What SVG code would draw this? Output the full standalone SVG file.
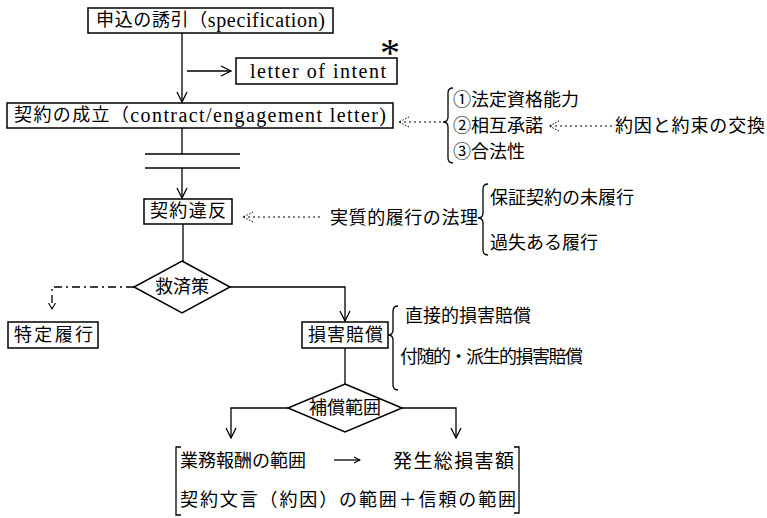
<svg xmlns="http://www.w3.org/2000/svg" width="767" height="518" viewBox="0 0 767 518">
<defs>
<style>
.t{font-family:"Liberation Serif","Noto Sans CJK JP",serif;font-size:18px;fill:#000;dominant-baseline:central}
.lat{font-size:20px}
.box{fill:#fff;stroke:#000;stroke-width:1.5}
.ln{fill:none;stroke:#000;stroke-width:1.3}
.dot{fill:none;stroke:#000;stroke-width:1.2;stroke-dasharray:2 3}
.dd{fill:none;stroke:#000;stroke-width:1.3;stroke-dasharray:8 4 2 4}
</style>
<marker id="arr" viewBox="0 0 12 12" refX="11" refY="6" markerWidth="12" markerHeight="12" orient="auto" markerUnits="userSpaceOnUse">
<path d="M1,1 L11,6 L1,11" fill="none" stroke="#000" stroke-width="1.3"/>
</marker>
<marker id="darr" viewBox="0 0 12 12" refX="11" refY="6" markerWidth="12" markerHeight="12" orient="auto" markerUnits="userSpaceOnUse">
<path d="M1,1 L11,6 L1,11" fill="none" stroke="#000" stroke-width="1" stroke-dasharray="1.5 1.5"/>
</marker>
<marker id="sarr" viewBox="0 0 8 8" refX="7" refY="4" markerWidth="8" markerHeight="8" orient="auto" markerUnits="userSpaceOnUse">
<path d="M1,1 L7,4 L1,7" fill="none" stroke="#000" stroke-width="1.1"/>
</marker>
</defs>

<g id="connectors">
<line class="ln" x1="182" y1="32" x2="182" y2="102" marker-end="url(#arr)"/>
<line class="ln" x1="187" y1="71" x2="231" y2="71" marker-end="url(#arr)"/>
<line class="dot" x1="446" y1="122" x2="399" y2="122" marker-end="url(#darr)"/>
<line class="dot" x1="612" y1="126" x2="549" y2="126" marker-end="url(#darr)"/>
<line class="ln" x1="182" y1="128" x2="182" y2="154"/>
<line class="ln" x1="145" y1="154" x2="240" y2="154"/>
<line class="ln" x1="145" y1="168" x2="240" y2="168"/>
<line class="ln" x1="182" y1="168" x2="182" y2="198" marker-end="url(#arr)"/>
<line class="dot" x1="320" y1="217" x2="243" y2="217" marker-end="url(#darr)"/>
<line class="ln" x1="183" y1="224" x2="183" y2="261"/>
<path class="dd" d="M134,287 L52,287 L52,308"/>
<path d="M48.5,303 L52,309 L55.5,303" fill="none" stroke="#000" stroke-width="1.1"/>
<path class="ln" d="M230,287 L345,287 L345,321" marker-end="url(#arr)"/>
<line class="ln" x1="345" y1="348" x2="345" y2="384"/>
<path class="ln" d="M288,408 L231,408 L231,438" marker-end="url(#arr)"/>
<path class="ln" d="M402,408 L456,408 L456,438" marker-end="url(#arr)"/>
<line class="ln" x1="334" y1="460" x2="360" y2="460" marker-end="url(#sarr)"/>
</g>

<g id="n-offer">
<rect class="box" x="88" y="8" width="245" height="25"/>
<text class="t" x="96" y="20" textLength="229" lengthAdjust="spacing">申込の誘引（<tspan class="lat">specification)</tspan></text>
</g>

<g id="n-loi">
<rect class="box" x="236" y="58" width="161" height="26"/>
<text class="t lat" x="250" y="71" textLength="136" lengthAdjust="spacing">letter of intent</text>
<text class="t" x="380" y="52" style="font-size:40px">*</text>
</g>

<g id="n-contract">
<rect class="box" x="7" y="103" width="386" height="25"/>
<text class="t" x="14" y="115" textLength="372" lengthAdjust="spacing">契約の成立（<tspan class="lat">contract/engagement letter)</tspan></text>
</g>

<g id="n-elements">
<path class="ln" d="M453,88 Q448,88 448,93 L448,117 Q448,122 443,122 Q448,122 448,127 L448,158 Q448,163 453,163"/>
<text class="t" x="453" y="100">①法定資格能力</text>
<text class="t" x="453" y="126">②相互承諾</text>
<text class="t" x="453" y="152">③合法性</text>
<text class="t" x="615" y="126" textLength="150" lengthAdjust="spacing">約因と約束の交換</text>
</g>

<g id="n-breach">
<rect class="box" x="144" y="199" width="88" height="25"/>
<text class="t" x="150" y="211" textLength="76" lengthAdjust="spacing">契約違反</text>
</g>

<g id="n-substantial">
<text class="t" x="330" y="218" textLength="148" lengthAdjust="spacing">実質的履行の法理</text>
<path class="ln" d="M488,184 Q483,184 483,189 L483,213 Q483,218 478,218 Q483,218 483,223 L483,250 Q483,255 488,255"/>
<text class="t" x="490" y="198">保証契約の未履行</text>
<text class="t" x="490" y="243">過失ある履行</text>
</g>

<g id="n-remedy">
<polygon class="box" points="182,261 230,287 182,313 134,287"/>
<text class="t" x="182" y="287" text-anchor="middle">救済策</text>
</g>

<g id="n-specific">
<rect class="box" x="8" y="322" width="90" height="26"/>
<text class="t" x="14" y="335" textLength="79" lengthAdjust="spacing">特定履行</text>
</g>

<g id="n-damages">
<rect class="box" x="302" y="322" width="86" height="26"/>
<text class="t" x="308" y="335" textLength="75" lengthAdjust="spacing">損害賠償</text>
<path class="ln" d="M398,306 Q393,306 393,311 L393,330 Q393,335 388,335 Q393,335 393,340 L393,385 Q393,390 398,390"/>
<text class="t" x="405" y="316">直接的損害賠償</text>
<text class="t" x="400" y="357" textLength="183" lengthAdjust="spacing">付随的・派生的損害賠償</text>
</g>

<g id="n-scope">
<polygon class="box" points="345,384 402,408 345,432 288,408"/>
<text class="t" x="345" y="408" text-anchor="middle">補償範囲</text>
</g>

<g id="n-range">
<path class="ln" d="M181,447 L176,447 L176,515 L181,515"/>
<path class="ln" d="M514,447 L519,447 L519,513 L514,513"/>
<text class="t" x="180" y="461" textLength="126" lengthAdjust="spacing">業務報酬の範囲</text>
<text class="t" x="393" y="461" style="font-size:19px" textLength="121" lengthAdjust="spacing">発生総損害額</text>
<text class="t" x="180" y="500" textLength="336" lengthAdjust="spacing">契約文言（約因）の範囲＋信頼の範囲</text>
</g>
</svg>
